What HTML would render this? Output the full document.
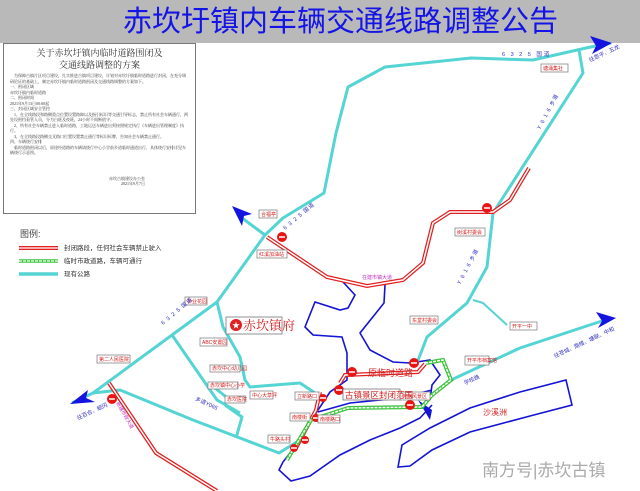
<!DOCTYPE html>
<html><head><meta charset="utf-8">
<style>
html,body{margin:0;padding:0;background:#fff;}
#w{position:relative;width:640px;height:491px;overflow:hidden;font-family:"Liberation Serif","Noto Serif CJK SC",serif;}
.bar{position:absolute;left:0;top:0;width:640px;height:43px;background:#b9b9b9;}
.title{position:absolute;left:123px;top:5px;font-size:29px;line-height:34px;color:#1414e6;white-space:nowrap;font-family:"Liberation Sans","Noto Sans CJK SC",sans-serif;}
.note{position:absolute;left:3px;top:43px;width:191px;height:169px;border:1px solid #777;background:#fff;font-size:4px;line-height:5.5px;color:#333;}
.note h1{font-size:9px;line-height:12px;text-align:center;margin:3px 0 2px;font-weight:normal;color:#333;}
.note p{margin:0 6px;}
</style></head><body><div id="w">
<div class="bar"></div>
<div class="title">赤坎圩镇内车辆交通线路调整公告</div>
<div class="note">
<h1>关于赤坎圩镇内临时道路围闭及<br>交通线路调整的方案</h1>
<p>　为保障古镇片区项目建设，扎实推进古镇项目建设，计划对赤坎圩镇临时道路进行封闭，在充分调研论证的基础上，制定赤坎圩镇内临时道路围闭及交通线路调整的方案如下。</p>
<p>一、围闭区域</p><p>赤坎圩镇内临时道路</p><p>二、围闭时间</p><p>2021年9月13日00:00起</p><p>三、封闭区域安全管控</p>
<p>　1、在全线路段和路侧重点位置设置路障以及指引标识等交通引导标志，禁止所有社会车辆通行，两处设围挡看管人员，分为白班及夜班，24小时不间断值守。</p>
<p>　2、所有社会车辆禁止进入临时道路，工地运送车辆进出须按照规定执行《车辆进出管理制度》执行。</p>
<p>　3、在全线路段路侧交叉路口位置设置禁止通行等标识标牌，告知社会车辆禁止通行。</p>
<p>四、车辆绕行安排</p>
<p>　临时道路围闭以后，原途经道路的车辆请绕行中心小学前乡道临时通道出行，具体绕行安排详见车辆绕行示意图。</p>
<p style="margin-top:20px;text-align:right;margin-right:50px">赤坎古镇建设办公室<br>2021年9月7日</p>
</div>
<svg width="640" height="491" style="position:absolute;left:0;top:0" font-family="Liberation Sans,Noto Sans CJK SC,sans-serif">
<g fill="none" stroke="#1414d4" stroke-width="1.6">
<path d="M343,282 L355,295 L348,308 L340,310 L315,302 L305,327 L313,335 L342,337 L347,353 L347,380 L330,392 L318,410 L300,440 L283,462 L279,470 L291,481 L310,476 L340,455 L370,440 L400,428 L420,418 L432,405"/>
<path d="M385,285 L384,303 L360,333 L370,350 L393,362 L410,363 L430,360 L440,375 L432,385 L430,400"/>
<path d="M318,412 L350,403 L400,398 L432,390"/>
<path d="M398,467 L402,445 L430,428 L470,408 L520,392 L566,380 L572,405 L530,416 L470,432 L432,450 L410,466 Z"/>
</g>
<path d="M418,400 L432,410 L430,420 Z" fill="#1414d4"/>
<g fill="none" stroke="#55d4d4" stroke-width="3" stroke-linejoin="round">
<path d="M611,43 L586,48 L533,60 L471,58 L385,67 L348,87 L336,133 L324,193 L283,218 L265,235 L217,302 L172,335 L93,393 L72,403"/>
<path d="M265,235 L242,218"/>
<path d="M579,50 L583,73 L493,213 L487,267 L467,303 L427,337 L417,363"/>
<path d="M473,300 L483,303 L507,325" stroke-width="2"/>
<path d="M217,302 L223,327 L240,357 L245,380 L250,387 L300,383 L318,395"/>
<path d="M172,335 L217,400 L240,413"/>
<path d="M215,388 L230,400 L246,397"/>
<path d="M93,393 L120,390 L193,420 L279,453 L300,440"/>
<path d="M225,405 L242,417 L236,438"/>
<path d="M451,380 L520,348 L611,318"/>
</g>
<path d="M612,43 L590,36 L596,46 L592,54 Z" fill="#1414e0"/>
<path d="M232,206 L252,214 L244,216 L242,226 Z" fill="#1414e0"/>
<path d="M70,404 L88,390 L86,398 L95,402 Z" fill="#1414e0"/>
<path d="M616,318 L596,312 L602,321 L598,328 Z" fill="#1414e0"/>
<g fill="none" stroke="#e02020" stroke-width="4">
<path d="M267,237 L327,277 L367,286 L403,280 L423,263 L433,223 L450,212 L493,212 L510,200 L529,168"/>
<path d="M109,383 L156,453 L217,491"/>
<path d="M340,383 L345,375 L418,372 L425,364"/>
<path d="M320,392 L316,410 L295,450"/>
</g>
<g fill="none" stroke="#fff" stroke-width="1.5">
<path d="M267,237 L327,277 L367,286 L403,280 L423,263 L433,223 L450,212 L493,212 L510,200 L529,168"/>
<path d="M109,383 L156,453 L217,491"/>
<path d="M340,383 L345,375 L418,372 L425,364"/>
<path d="M320,392 L316,410 L295,450"/>
</g>
<g fill="none" stroke="#3bc43b" stroke-width="4"><path d="M287,460 L311,420 L348,408 L422,407 L432,395 L451,380 L443,360 L426,363"/></g>
<g fill="none" stroke="#fff" stroke-width="1.5" stroke-dasharray="3,1"><path d="M287,460 L311,420 L348,408 L422,407 L432,395 L451,380 L443,360 L426,363"/></g>
<g fill="#e81515">
<circle cx="487" cy="208" r="5"/><circle cx="282" cy="237" r="5"/><circle cx="112" cy="399" r="5"/>
<circle cx="352" cy="372" r="5"/><circle cx="414" cy="363" r="5"/><circle cx="339" cy="390" r="5"/>
<circle cx="323" cy="398" r="4"/><circle cx="410" cy="405" r="5"/><circle cx="316" cy="418" r="4"/>
<circle cx="305" cy="440" r="4"/><circle cx="294" cy="448" r="4"/>
</g>
<g stroke="#fff" stroke-width="1.5">
<path d="M484,208h6M279,237h6M109,399h6M349,372h6M411,363h6M336,390h6M320,398h6M407,405h6M313,418h6M302,440h6M291,448h6"/>
</g>
<text x="20" y="237" font-size="9" fill="#444">图例:</text>
<g fill="none"><path d="M19,248h39" stroke="#e02020" stroke-width="4"/><path d="M19,248h39" stroke="#fff" stroke-width="1.3"/>
<path d="M19,261h39" stroke="#3bc43b" stroke-width="3.5"/><path d="M19,261h39" stroke="#fff" stroke-width="1.2" stroke-dasharray="3,1"/>
<path d="M19,274h39" stroke="#55d4d4" stroke-width="3.5"/></g>
<g font-size="6.5" fill="#333"><text x="64" y="250">封闭路段，任何社会车辆禁止驶入</text><text x="64" y="263">临时市政道路，车辆可通行</text><text x="64" y="276">现有公路</text></g>
<g font-size="5" fill="#d42020" stroke="none">
<rect x="541" y="64" width="27" height="8" fill="#fff" stroke="#777" stroke-width="0.7"/><text x="543" y="70">塘涌集社</text>
<rect x="259" y="210" width="18" height="8" fill="#fff" stroke="#777" stroke-width="0.7"/><text x="261" y="216">合福亭</text>
<rect x="257" y="250" width="30" height="8" fill="#fff" stroke="#777" stroke-width="0.7"/><text x="259" y="256">红溪加油站</text>
<rect x="455" y="228" width="30" height="8" fill="#fff" stroke="#777" stroke-width="0.7"/><text x="457" y="234">树溪村委会</text>
<rect x="185" y="297" width="22" height="8" fill="#fff" stroke="#777" stroke-width="0.7"/><text x="187" y="303">桥业花园</text>
<rect x="200" y="338" width="27" height="8" fill="#fff" stroke="#777" stroke-width="0.7"/><text x="202" y="344">ABC安置园</text>
<rect x="97" y="355" width="33" height="8" fill="#fff" stroke="#777" stroke-width="0.7"/><text x="99" y="361">第二人民医院</text>
<rect x="410" y="316" width="28" height="8" fill="#fff" stroke="#777" stroke-width="0.7"/><text x="412" y="322">东堂村委会</text>
<rect x="510" y="322" width="27" height="8" fill="#fff" stroke="#777" stroke-width="0.7"/><text x="512" y="328">开平一中</text>
<rect x="465" y="356" width="24" height="9" fill="#fff" stroke="#777" stroke-width="0.7"/><text x="467" y="362">开平市档案馆</text>
<rect x="210" y="365" width="30" height="7" fill="#fff" stroke="#777" stroke-width="0.7"/><text x="212" y="370">赤坎中心幼儿园</text>
<rect x="208" y="382" width="30" height="7" fill="#fff" stroke="#777" stroke-width="0.7"/><text x="210" y="387">赤坎镇中心小学</text>
<rect x="225" y="396" width="20" height="7" fill="#fff" stroke="#777" stroke-width="0.7"/><text x="227" y="401">赤坎医院</text>
<rect x="250" y="391" width="23" height="8" fill="#fff" stroke="#777" stroke-width="0.7"/><text x="252" y="397">中心大草坪</text>
<rect x="295" y="392" width="24" height="8" fill="#fff" stroke="#777" stroke-width="0.7"/><text x="297" y="398">立新路口</text>
<rect x="290" y="413" width="20" height="8" fill="#fff" stroke="#777" stroke-width="0.7"/><text x="292" y="419">南楼街</text>
<rect x="318" y="415" width="22" height="8" fill="#fff" stroke="#777" stroke-width="0.7"/><text x="320" y="421">南楼路口</text>
<rect x="268" y="435" width="22" height="8" fill="#fff" stroke="#777" stroke-width="0.7"/><text x="270" y="441">牛路头村</text>
<rect x="400" y="392" width="30" height="8" fill="#fff" stroke="#777" stroke-width="0.7"/><text x="402" y="398">河南风景区</text>
</g>
<rect x="226" y="317" width="56" height="17" fill="#fff" stroke="#777" stroke-width="0.8"/>
<circle cx="236" cy="325" r="6" fill="#e02020"/><text x="236" y="328" font-size="8" fill="#fff" text-anchor="middle">★</text>
<text x="243" y="330" font-size="13" fill="#d42020" font-family="Liberation Serif,Noto Serif CJK SC,serif">赤坎镇府</text>
<text x="368" y="376" font-size="9" fill="#d42020">原临时道路</text>
<rect x="343" y="389" width="57" height="11" fill="#fff" stroke="#777" stroke-width="0.8"/>
<text x="345" y="398" font-size="8.5" fill="#d42020">古镇景区封闭范围</text>
<text x="483" y="415" font-size="8" fill="#d42020">沙溪洲</text>
<g font-size="5.5" fill="#3030c0">
<text x="502" y="56" letter-spacing="2">6 3 2 5 国道</text>
<text x="0" y="0" transform="translate(590,62) rotate(-25)">往恩平、五龙</text>
<text x="0" y="0" transform="translate(540,130) rotate(-62)" letter-spacing="1">Y 6 1 6 乡道</text>
<text x="0" y="0" transform="translate(285,230) rotate(-40)" letter-spacing="1">6 3 2 5 国道</text>
<text x="0" y="0" transform="translate(163,325) rotate(-40)" letter-spacing="1">6 3 2 5 国道</text>
<text x="0" y="0" transform="translate(460,285) rotate(-62)" letter-spacing="1">Y 6 1 6 乡道</text>
<text x="0" y="0" transform="translate(555,358) rotate(-25)">往苍城、南楼、塘联、中和</text>
<text x="0" y="0" transform="translate(78,420) rotate(-25)">往百合、蚬冈</text>
<text x="0" y="0" transform="translate(465,385) rotate(-25)">学校路</text>
<text x="0" y="0" transform="translate(195,400) rotate(25)">乡道Y065</text>
</g>
<text x="0" y="0" transform="translate(116,403) rotate(60)" font-size="5" fill="#c030c0">新建市政大道</text>
<text x="362" y="279" font-size="5" fill="#c030c0">在建市镇大道</text>
<text x="482" y="476" font-size="17" fill="#aaaaaa">南方号|赤坎古镇</text>
</svg>
</div></body></html>
